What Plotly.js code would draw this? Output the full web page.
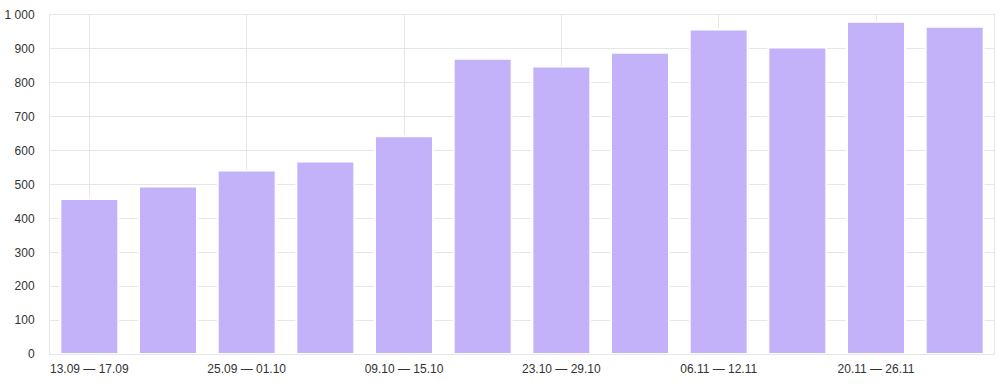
<!DOCTYPE html>
<html>
<head>
<meta charset="utf-8">
<script src="https://cdn.plot.ly/plotly-3.0.1.min.js"></script>
<style>html,body{margin:0;padding:0;background:#fff;}#chart{width:1005px;height:384px;}</style>
</head>
<body>
<div id="chart"></div>
<script>
const categories = ["13.09 — 17.09","18.09 — 24.09","25.09 — 01.10","02.10 — 08.10","09.10 — 15.10","16.10 — 22.10","23.10 — 29.10","30.10 — 05.11","06.11 — 12.11","13.11 — 19.11","20.11 — 26.11","27.11 — 03.12"];
const values = [457, 494, 541, 568, 642, 871, 848, 889, 957, 904, 980, 965];
const yTicks = [0,100,200,300,400,500,600,700,800,900,1000];
const xTickLabels = categories.filter((c, i) => i % 2 === 0);

const trace = {
  type: 'bar',
  x: categories,
  y: values,
  width: 0.737,
  marker: {color: '#c3b1fa', line: {color: '#ffffff', width: 2}},
  hoverinfo: 'x+y'
};
const layout = {
  width: 1005, height: 384,
  margin: {l: 50, r: 11, t: 15, b: 30},
  paper_bgcolor: '#fff', plot_bgcolor: '#fff',
  font: {family: 'Liberation Sans, Arial, sans-serif', size: 12, color: '#333'},
  separators: '. ',
  showlegend: false,
  xaxis: {
    type: 'category',
    tickmode: 'array',
    tickvals: xTickLabels,
    ticktext: xTickLabels,
    showgrid: true, gridcolor: '#e6e6e6', gridwidth: 1,
    showline: true, linecolor: '#e6e6e6', linewidth: 1, mirror: true,
    ticks: '', ticklabelstandoff: 4,
    tickfont: {size: 12, color: '#333'},
    fixedrange: true
  },
  yaxis: {
    range: [0, 1000],
    tickmode: 'array',
    tickvals: yTicks,
    separatethousands: true,
    showgrid: true, gridcolor: '#e6e6e6', gridwidth: 1,
    showline: true, linecolor: '#e6e6e6', linewidth: 1, mirror: true,
    zeroline: false,
    ticks: '', ticklabelstandoff: 12,
    tickfont: {size: 12, color: '#333'},
    fixedrange: true
  }
};
Plotly.newPlot('chart', [trace], layout, {displayModeBar: false, staticPlot: true});
</script>
</body>
</html>
